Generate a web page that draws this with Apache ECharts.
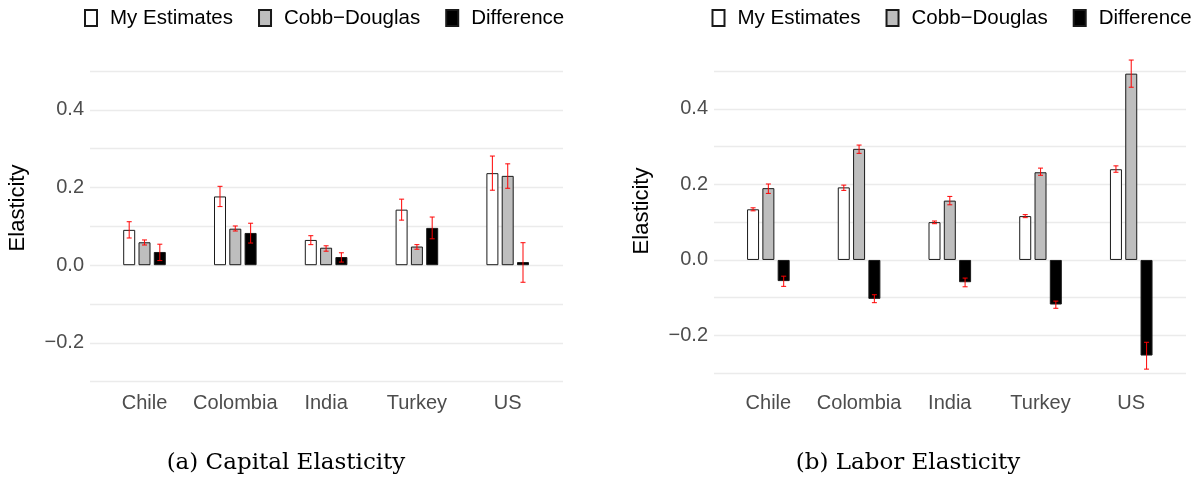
<!DOCTYPE html>
<html>
<head>
<meta charset="utf-8">
<script src="https://cdn.jsdelivr.net/npm/echarts@6/dist/echarts.min.js"></script>
<style>
html,body{margin:0;padding:0;background:#fff;}
#chart{width:1198px;height:483px;}
</style>
</head>
<body>
<div id="chart"></div>
<script>
// ---- data ----
const countries = ['Chile', 'Colombia', 'India', 'Turkey', 'US'];
const seriesNames = ['My Estimates', 'Cobb\u2212Douglas', 'Difference'];

const capitalMine = [0.091, 0.177, 0.065, 0.143, 0.237];
const capitalCD   = [0.059, 0.094, 0.045, 0.048, 0.230];
const capitalDiff = [0.034, 0.083, 0.021, 0.096, 0.008];
const capitalMineLo = [0.070, 0.151, 0.053, 0.116, 0.193];
const capitalMineHi = [0.112, 0.203, 0.076, 0.170, 0.281];
const capitalCDLo   = [0.052, 0.088, 0.036, 0.041, 0.198];
const capitalCDHi   = [0.065, 0.101, 0.050, 0.053, 0.261];
const capitalDiffLo = [0.012, 0.057, 0.008, 0.068, -0.044];
const capitalDiffHi = [0.054, 0.108, 0.032, 0.124, 0.058];

const laborMine = [0.134, 0.192, 0.100, 0.116, 0.240];
const laborCD   = [0.190, 0.294, 0.157, 0.232, 0.493];
const laborDiff = [-0.056, -0.103, -0.059, -0.118, -0.253];
const laborMineLo = [0.130, 0.184, 0.096, 0.112, 0.232];
const laborMineHi = [0.138, 0.198, 0.103, 0.120, 0.249];
const laborCDLo   = [0.176, 0.282, 0.146, 0.224, 0.457];
const laborCDHi   = [0.201, 0.304, 0.168, 0.243, 0.529];
const laborDiffLo = [-0.070, -0.113, -0.071, -0.128, -0.289];
const laborDiffHi = [-0.043, -0.092, -0.048, -0.109, -0.218];

const yTickValues = [-0.2, 0, 0.2, 0.4];
const yTickLabels = ['\u22120.2', '0.0', '0.2', '0.4'];
const yMin = -0.3, yMax = 0.5, yStep = 0.1;

const captions = ['(a) Capital Elasticity', '(b) Labor Elasticity'];
const yTitle = 'Elasticity';

// ---- style ----
const SANS = "'Liberation Sans', Arial, sans-serif";
const fills = ['#FFFFFF', '#BEBEBE', '#000000'];
const BAR_W = 12;
const BAR_GAP = 0.275;
const STEP = BAR_W * (1 + BAR_GAP);

const chart = echarts.init(document.getElementById('chart'));

function yLabel(v) {
  for (let i = 0; i < yTickValues.length; i++) {
    if (Math.abs(v - yTickValues[i]) < 1e-6) return yTickLabels[i];
  }
  return '';
}

const panels = [
  { gl: { left: 90, width: 473, top: 71, height: 310.7 },
    gb: { left: 99.1, width: 454, top: 71, height: 310.7 },
    labMargin: 12, legendLeft: 79, titleX: 17.5, titleY: 208, capX: 286, legendFont: 20.5,
    vals: [capitalMine, capitalCD, capitalDiff],
    lo: [capitalMineLo, capitalCDLo, capitalDiffLo],
    hi: [capitalMineHi, capitalCDHi, capitalDiffHi] },
  { gl: { left: 714, width: 472, top: 71, height: 302.3 },
    gb: { left: 723, width: 453.6, top: 71, height: 302.3 },
    labMargin: 20.5, legendLeft: 706.5, titleX: 641.5, titleY: 211, capX: 908, legendFont: 20.5,
    vals: [laborMine, laborCD, laborDiff],
    lo: [laborMineLo, laborCDLo, laborDiffLo],
    hi: [laborMineHi, laborCDHi, laborDiffHi] }
];

const grid = [], xAxis = [], yAxis = [], series = [], legend = [], graphic = [];

panels.forEach((p, pi) => {
  const gLine = grid.length;
  grid.push(p.gl);
  xAxis.push({ type: 'value', gridIndex: gLine, show: false, min: 0, max: 1 });
  yAxis.push({
    type: 'value', gridIndex: gLine, min: yMin, max: yMax, interval: yStep,
    axisLine: { show: false }, axisTick: { show: false },
    splitLine: { show: true, lineStyle: { color: '#EBEBEB', width: 1.4 } },
    axisLabel: { color: '#4D4D4D', fontSize: 20, fontFamily: SANS, margin: 6, formatter: yLabel }
  });
  const gBar = grid.length;
  grid.push(p.gb);
  xAxis.push({
    type: 'category', gridIndex: gBar, data: countries,
    axisLine: { show: false }, axisTick: { show: false }, splitLine: { show: false },
    axisLabel: { color: '#4D4D4D', fontSize: 20, fontFamily: SANS, margin: p.labMargin, interval: 0 }
  });
  yAxis.push({ type: 'value', gridIndex: gBar, min: yMin, max: yMax, interval: yStep, show: false, splitLine: { show: false } });

  seriesNames.forEach((name, k) => {
    series.push({
      type: 'bar', name: name, xAxisIndex: gBar, yAxisIndex: gBar,
      data: p.vals[k], barWidth: BAR_W, barGap: (BAR_GAP * 100) + '%',
      itemStyle: { color: fills[k], borderColor: '#1a1a1a', borderWidth: 1 },
      emphasis: { disabled: true }, z: 2
    });
  });
  seriesNames.forEach((name, k) => {
    const lo = p.lo[k], hi = p.hi[k];
    series.push({
      type: 'custom', name: name + ' err', xAxisIndex: gBar, yAxisIndex: gBar,
      data: countries.map((c, i) => [i, lo[i], hi[i]]),
      encode: { x: 0, y: [1, 2] }, z: 5, silent: true,
      renderItem: function (params, api) {
        const i = api.value(0);
        const a = api.coord([i, api.value(1)]);
        const b = api.coord([i, api.value(2)]);
        const x = a[0] + (k - 1) * STEP;
        const st = { stroke: '#FF0000', lineWidth: 1.1, opacity: 0.9 };
        return { type: 'group', children: [
          { type: 'line', shape: { x1: x, y1: a[1], x2: x, y2: b[1] }, style: st },
          { type: 'line', shape: { x1: x - 2.5, y1: a[1], x2: x + 2.5, y2: a[1] }, style: st },
          { type: 'line', shape: { x1: x - 2.5, y1: b[1], x2: x + 2.5, y2: b[1] }, style: st }
        ] };
      }
    });
  });

  legend.push({
    data: seriesNames, left: p.legendLeft, top: 2.5, width: 520, orient: 'horizontal',
    icon: 'rect', itemWidth: 12, itemHeight: 16, itemGap: 25,
    selectedMode: false,
    textStyle: { color: '#000', fontSize: p.legendFont, fontFamily: SANS, padding: [0, 0, 0, 8] }
  });

  graphic.push({
    type: 'text', x: p.titleX, y: p.titleY, rotation: Math.PI / 2,
    style: { text: yTitle, x: 0, y: 0, fill: '#000', font: '22px ' + SANS, align: 'center', verticalAlign: 'middle' }
  });
  graphic.push({
    type: 'text', x: p.capX, y: 463,
    style: { text: captions[pi], x: 0, y: 0, fill: '#000', font: "23px 'DejaVu Serif', serif", align: 'center', verticalAlign: 'middle' }
  });
});

chart.setOption({
  animation: false,
  backgroundColor: '#fff',
  grid: grid, xAxis: xAxis, yAxis: yAxis,
  legend: legend, series: series, graphic: graphic
});
</script>
</body>
</html>
